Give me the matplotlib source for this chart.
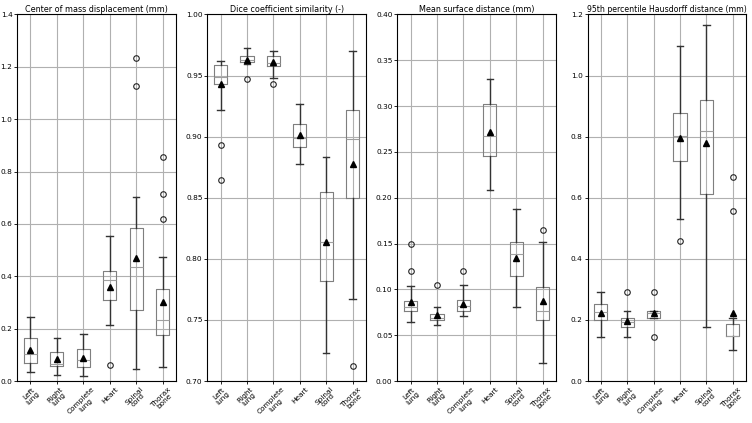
import numpy as np
import matplotlib
matplotlib.use("Agg")
import matplotlib.pyplot as plt

organs = ["Left\nlung", "Right\nlung", "Complete\nlung", "Heart", "Spinal\ncord", "Thorax\nbone"]

# each row: whisker low, q1, median, q3, whisker high, mean
com_stats = [
    [0.033, 0.071, 0.105, 0.163, 0.245, 0.118],
    [0.022, 0.058, 0.067, 0.112, 0.166, 0.083],
    [0.021, 0.055, 0.082, 0.122, 0.180, 0.090],
    [0.215, 0.310, 0.385, 0.420, 0.555, 0.360],
    [0.048, 0.270, 0.435, 0.585, 0.703, 0.470],
    [0.055, 0.177, 0.232, 0.352, 0.472, 0.302],
]
com_fliers = [[], [], [], [0.063], [1.232, 1.128], [0.856, 0.715, 0.620]]

dice_stats = [
    [0.922, 0.943, 0.9486, 0.9587, 0.962, 0.9429],
    [0.9593, 0.961, 0.9628, 0.9658, 0.9724, 0.963],
    [0.948, 0.9577, 0.960, 0.9656, 0.970, 0.9607],
    [0.8776, 0.8913, 0.899, 0.9104, 0.9265, 0.9016],
    [0.7226, 0.782, 0.8142, 0.855, 0.8836, 0.8136],
    [0.7674, 0.8497, 0.898, 0.9219, 0.970, 0.8776],
]
dice_fliers = [[0.8934, 0.8648], [0.9473], [0.943], [], [], [0.712]]

msd_stats = [
    [0.0647, 0.0763, 0.0813, 0.0878, 0.1037, 0.086],
    [0.0614, 0.0669, 0.069, 0.0734, 0.0806, 0.0716],
    [0.0708, 0.0766, 0.082, 0.0889, 0.1048, 0.0842],
    [0.208, 0.2453, 0.2675, 0.3018, 0.329, 0.2719],
    [0.0813, 0.115, 0.1384, 0.152, 0.1872, 0.1348],
    [0.0202, 0.0669, 0.077, 0.1026, 0.1518, 0.0875],
]
msd_fliers = [[0.150, 0.1196], [0.1044], [0.1196], [], [], [0.1648]]

hd_stats = [
    [0.146, 0.1996, 0.227, 0.2508, 0.290, 0.2214],
    [0.146, 0.1778, 0.194, 0.205, 0.229, 0.196],
    [0.206, 0.206, 0.2236, 0.228, 0.228, 0.2214],
    [0.532, 0.719, 0.8033, 0.8776, 1.096, 0.7945],
    [0.1777, 0.613, 0.8197, 0.920, 1.165, 0.778],
    [0.1025, 0.147, 0.148, 0.1854, 0.207, 0.2214],
]
hd_fliers = [[], [0.290], [0.290, 0.146], [0.457], [], [0.669, 0.557]]

titles = ["Center of mass displacement (mm)", "Dice coefficient similarity (-)",
          "Mean surface distance (mm)", "95th percentile Hausdorff distance (mm)"]
ylims = [(0, 1.4), (0.70, 1.00), (0, 0.40), (0, 1.2)]
yticks = [np.arange(0, 1.41, 0.2), np.arange(0.70, 1.001, 0.05),
          np.arange(0, 0.401, 0.05), np.arange(0, 1.21, 0.2)]
yfmt = ["%.1f", "%.2f", "%.2f", "%.1f"]


def make_bxp(stats, fliers):
    out = []
    for s, f in zip(stats, fliers):
        out.append(dict(whislo=s[0], q1=s[1], med=s[2], q3=s[3], whishi=s[4],
                        mean=s[5], fliers=f))
    return out


fig, axes = plt.subplots(1, 4, figsize=(7.52, 4.23), dpi=100)
fig.subplots_adjust(left=0.023, right=0.992, top=0.966, bottom=0.099, wspace=0.2)

all_stats = [(com_stats, com_fliers), (dice_stats, dice_fliers),
             (msd_stats, msd_fliers), (hd_stats, hd_fliers)]

for i, ax in enumerate(axes):
    st, fl = all_stats[i]
    ax.bxp(make_bxp(st, fl), showmeans=True, widths=0.5,
           boxprops=dict(color="#7f7f7f", linewidth=0.8),
           medianprops=dict(color="#a0a0a0", linewidth=0.8),
           whiskerprops=dict(color="#333333", linewidth=1.0),
           capprops=dict(color="#333333", linewidth=1.0),
           flierprops=dict(marker="o", markerfacecolor="none", markeredgecolor="#222222",
                           markersize=4, markeredgewidth=0.8),
           meanprops=dict(marker="^", markerfacecolor="black", markeredgecolor="black",
                          markersize=4.5))
    ax.set_xticks(range(1, len(organs) + 1))
    ax.set_xticklabels(organs, rotation=45, fontsize=5.3, linespacing=1.0)
    ax.set_ylim(*ylims[i])
    ax.set_yticks(yticks[i])
    ax.set_yticklabels([yfmt[i] % v for v in yticks[i]], fontsize=5.3)
    ax.set_title(titles[i], fontsize=5.6 if i == 3 else 5.8, pad=2)
    ax.grid(True, color="#b0b0b0", linewidth=0.8)
    ax.set_axisbelow(True)
    ax.tick_params(length=2.5, width=0.6, pad=1.0)
    for sp in ax.spines.values():
        sp.set_linewidth(0.8)

fig.savefig("out.png", dpi=100)
